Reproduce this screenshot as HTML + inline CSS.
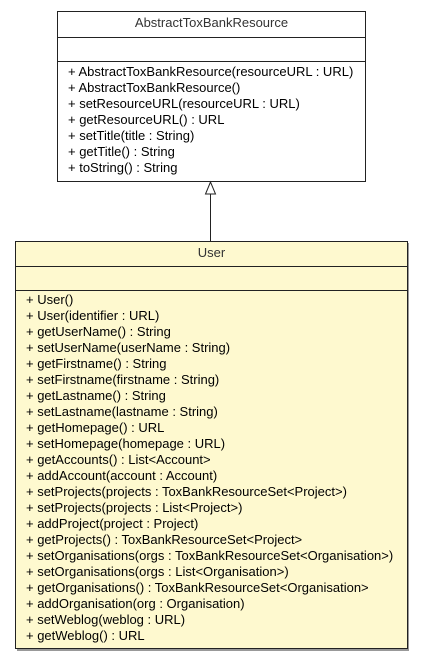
<!DOCTYPE html>
<html><head><meta charset="utf-8"><style>
body{margin:0;width:421px;height:661px;background:#fff;position:relative;font-family:"Liberation Sans",sans-serif;font-size:13px;color:#000;overflow:hidden}
.box{position:absolute;border:1px solid #222;box-sizing:border-box}
.hd{position:absolute;left:0;right:0;text-align:center;color:#333;line-height:16px}
.ln{position:absolute;left:0;right:0;border-top:1px solid #222}
.m{position:absolute;left:10px;line-height:16px;white-space:pre}
</style></head><body>
<div class="box" style="left:57px;top:11px;width:309px;height:171px;background:#fff">
 <div class="hd" style="top:3px">AbstractToxBankResource</div>
 <div class="ln" style="top:25px"></div>
 <div class="ln" style="top:49px"></div>
 <div class="m" style="top:52px">+ AbstractToxBankResource(resourceURL : URL)
+ AbstractToxBankResource()
+ setResourceURL(resourceURL : URL)
+ getResourceURL() : URL
+ setTitle(title : String)
+ getTitle() : String
+ toString() : String</div>
</div>
<svg style="position:absolute;left:0;top:0" width="421" height="661">
 <line x1="210.5" y1="194" x2="210.5" y2="241" stroke="#222" stroke-width="1"/>
 <polygon points="210.5,182 205.5,194 215.5,194" fill="#fff" stroke="#222" stroke-width="1"/>
 <rect x="17" y="243" width="392" height="408" fill="#999"/>
</svg>
<div class="box" style="left:15px;top:241px;width:393px;height:408px;background:#fef9cf">
 <div class="hd" style="top:3px">User</div>
 <div class="ln" style="top:24px"></div>
 <div class="ln" style="top:48px"></div>
 <div class="m" style="top:50px">+ User()
+ User(identifier : URL)
+ getUserName() : String
+ setUserName(userName : String)
+ getFirstname() : String
+ setFirstname(firstname : String)
+ getLastname() : String
+ setLastname(lastname : String)
+ getHomepage() : URL
+ setHomepage(homepage : URL)
+ getAccounts() : List&lt;Account&gt;
+ addAccount(account : Account)
+ setProjects(projects : ToxBankResourceSet&lt;Project&gt;)
+ setProjects(projects : List&lt;Project&gt;)
+ addProject(project : Project)
+ getProjects() : ToxBankResourceSet&lt;Project&gt;
+ setOrganisations(orgs : ToxBankResourceSet&lt;Organisation&gt;)
+ setOrganisations(orgs : List&lt;Organisation&gt;)
+ getOrganisations() : ToxBankResourceSet&lt;Organisation&gt;
+ addOrganisation(org : Organisation)
+ setWeblog(weblog : URL)
+ getWeblog() : URL</div>
</div>
</body></html>
